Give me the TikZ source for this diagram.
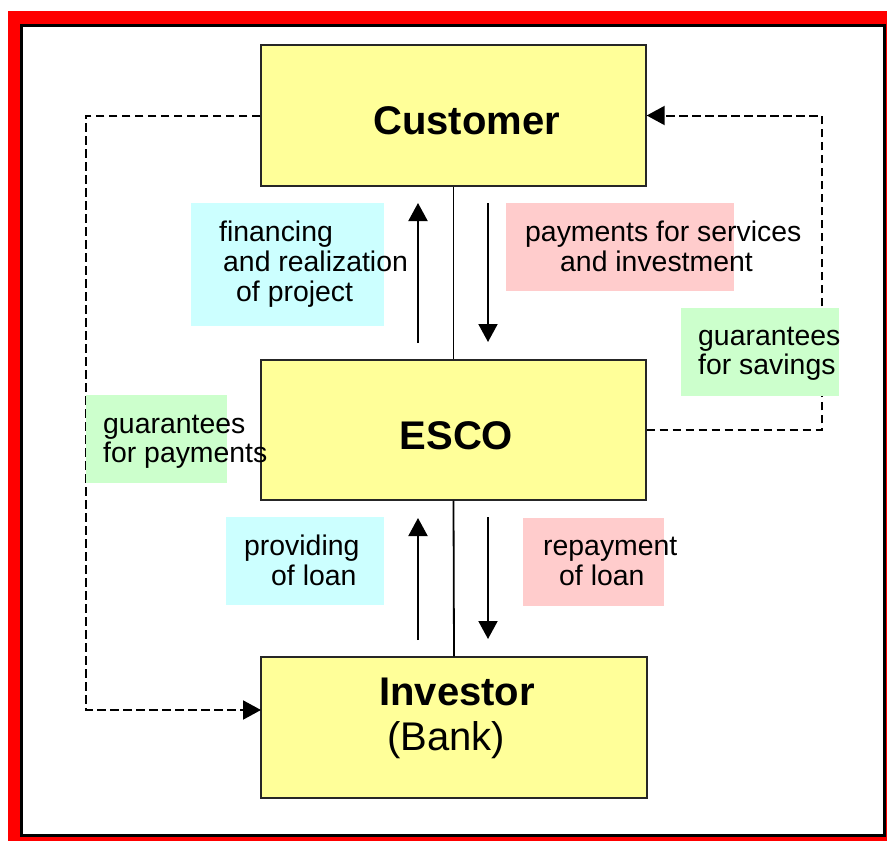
\documentclass[tikz,border=0pt]{standalone}
\usepackage{fontspec}
\setmainfont{Liberation Sans}
\usetikzlibrary{arrows.meta}
\definecolor{boxyellow}{HTML}{FFFF99}
\definecolor{tagcyan}{HTML}{CCFFFF}
\definecolor{tagpink}{HTML}{FFCCCC}
\definecolor{taggreen}{HTML}{CCFFCC}
\begin{document}
\begin{tikzpicture}[x=1pt,y=-1pt,
  mainbox/.style={draw=black!85, line width=1.4pt, fill=boxyellow, inner sep=0pt, minimum width=385pt, minimum height=141pt},
  txt/.style={anchor=base west, inner sep=0pt, font=\fontsize{28.4}{30}\selectfont},
  bigtxt/.style={anchor=base west, inner sep=0pt, font=\fontsize{40}{44}\selectfont\bfseries},
  bigreg/.style={anchor=base west, inner sep=0pt, font=\fontsize{40}{44}\selectfont},
  flow/.style={line width=2pt, -{Triangle[width=19pt,length=18pt]}},
  dashline/.style={line width=2pt, dash pattern=on 8.5pt off 4.5pt},
  dasharrow/.style={dashline, -{Triangle[width=19pt,length=18pt]}}
]
\useasboundingbox (0,0) rectangle (887,841);
% frame
\fill[red] (8,11) rectangle (887,841);
\draw[line width=3pt, fill=white] (21.7,25.3) rectangle (884.5,835);

% main boxes
\node[mainbox] (cust) at (453.5,115.5) {};
\node[mainbox, minimum height=140pt] (esco) at (453.5,430) {};
\node[mainbox, minimum width=386pt] (inv) at (454,727.5) {};

% dashed connectors
\coordinate (lt) at (86,115.5);
\coordinate (lb) at (86,710);
\coordinate (invin) at (261,710);
\coordinate (rb) at (822,430);
\coordinate (rt) at (822,115.5);
\draw[dasharrow] (cust.west) -- (lt) -- (lb) -- (invin);
\draw[dasharrow] (esco.east) -- (rb) -- (rt) -- (cust.east);

% label backgrounds
\fill[tagcyan] (191,203) rectangle (384,326);
\fill[tagpink] (506,203) rectangle (734,291);
\fill[taggreen] (681,308) rectangle (839,396);
\fill[taggreen] (86,395) rectangle (227,483);
\fill[tagcyan] (226,517) rectangle (384,605);
\fill[tagpink] (523,518) rectangle (664,606);

% centre lines
\draw[line width=1.8pt] (cust.south) -- (esco.north);
\draw[line width=1.8pt] (esco.south) -- (inv.north);

% flow arrows
\coordinate (u1s) at (418,343); \coordinate (u1e) at (418,203);
\coordinate (d1s) at (488,203); \coordinate (d1e) at (488,342);
\coordinate (u2s) at (418,640); \coordinate (u2e) at (418,518);
\coordinate (d2s) at (488,517); \coordinate (d2e) at (488,639);
\draw[flow] (u1s) -- (u1e);
\draw[flow] (d1s) -- (d1e);
\draw[flow] (u2s) -- (u2e);
\draw[flow] (d2s) -- (d2e);

% box texts
\node[bigtxt] (tcust) at (373,134) {Customer};
\node[bigtxt] (tesco) at (399.5,449) {ESCO};
\node[bigtxt] (tinv) at (379,705) {Investor};
\node[bigreg] (tbank) at (387,750) {(Bank)};

% label texts
\node[txt] (f1) at (219,241.5) {financing};
\node[txt] (f2) at (223,271.5) {and realization};
\node[txt] (f3) at (236,301) {of project};
\node[txt] (p1) at (525,241.5) {payments for services};
\node[txt] (p2) at (560,271.5) {and investment};
\node[txt] (g1) at (698,345) {guarantees};
\node[txt] (g2) at (698,374) {for savings};
\node[txt] (h1) at (103,433) {guarantees};
\node[txt] (h2) at (103,462) {for payments};
\node[txt] (l1) at (244,555) {providing};
\node[txt] (l2) at (271,585) {of loan};
\node[txt] (r1) at (543,555) {repayment};
\node[txt] (r2) at (559,585) {of loan};
\end{tikzpicture}
\end{document}
